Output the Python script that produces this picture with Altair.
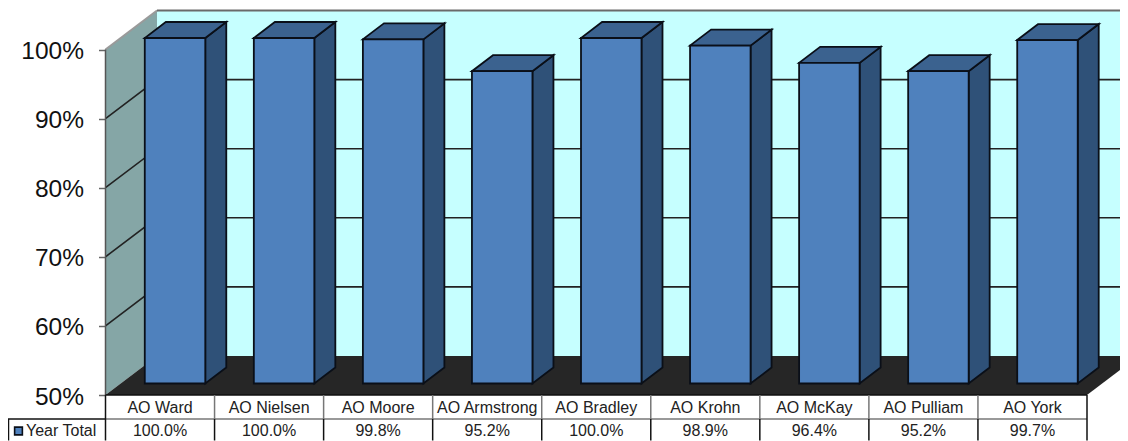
import altair as alt
import pandas as pd

categories = ["AO Ward", "AO Nielsen", "AO Moore", "AO Armstrong", "AO Bradley",
              "AO Krohn", "AO McKay", "AO Pulliam", "AO York"]
values = [100.0, 100.0, 99.8, 95.2, 100.0, 98.9, 96.4, 95.2, 99.7]
value_labels = ["100.0%", "100.0%", "99.8%", "95.2%", "100.0%", "98.9%", "96.4%", "95.2%", "99.7%"]
ticks = [50, 60, 70, 80, 90, 100]
series_name = "Year Total"

# geometry of the pseudo-3D box, in image pixels
AX0, AY0 = 105.5, 395.0
CATW = (1087 - 105.5) / 9
PXPCT = 345.5 / 50
DX, DY = 51.5 / CATW, 39.0 / PXPCT          # full depth in data units
FX, FY = 15.0 / CATW, 11.5 / PXPCT          # bar front offset
BX, BY = 36.0 / CATW, 27.5 / PXPCT          # bar back offset
BARW = 60.5 / CATW


def cx(px):
    return (px - AX0) / CATW


def vy(py):
    return 50 + (AY0 - py) / PXPCT


XS = alt.Scale(domain=[cx(8), cx(1120)], range=[0, 1112], nice=False, zero=False)
YS = alt.Scale(domain=[vy(441), vy(8)], range=[433, 0], nice=False, zero=False)
YAXIS = alt.Axis(
    values=ticks, labelExpr="datum.value + '%'", domain=False, grid=False, offset=-97.5,
    tickSize=7, tickColor="#666666", tickWidth=1.5, labelPadding=15, labelOffset=2,
    labelFont="Liberation Sans", labelFontSize=24.5, labelColor="#111111", title=None)
X = lambda f="x": alt.X(f, type="quantitative", scale=XS, axis=None, title=None)
Y = lambda f="y": alt.Y(f, type="quantitative", scale=YS, axis=YAXIS, title=None)

# back wall
wall = pd.DataFrame([{"x": DX, "x2": cx(1128) + 1, "y": 100 + DY, "y2": 50 + DY}])
wall_l = alt.Chart(wall).mark_rect(color="#C6FFFF", clip=True).encode(
    x=X(), x2="x2", y=Y(), y2="y2")
# left wall
lw = pd.DataFrame([{"x": 0, "y": 100, "y2": 50}, {"x": DX, "y": 100 + DY, "y2": 50 + DY}])
lw_l = alt.Chart(lw).mark_area(color="#85A6A6").encode(x=X(), y=Y(), y2="y2")
# floor
fl = pd.DataFrame([{"y": 50, "x": 0, "x2": 9}, {"y": 50 + DY, "x": DX, "x2": 9 + DX}])
fl_l = alt.Chart(fl).mark_area(color="#262626", orient="horizontal", clip=True).encode(
    y=Y(), x=X(), x2="x2")

# gridlines on the walls
g_rows = []
for t in ticks[1:-1]:
    g_rows += [{"g": t, "x": 0, "y": t}, {"g": t, "x": DX, "y": t + DY}, {"g": t, "x": cx(1128) + 1, "y": t + DY}]
grid_l = alt.Chart(pd.DataFrame(g_rows)).mark_line(color="#222222", strokeWidth=1.6, clip=True).encode(
    x=X(), y=Y(), detail="g:N")

# top and left edges of the walls
edge = pd.DataFrame([{"x": 0, "y": 100}, {"x": DX, "y": 100 + DY}])
edge_l = alt.Chart(edge).mark_line(color="#9A9A9A", strokeWidth=2).encode(x=X(), y=Y())
edge2 = pd.DataFrame([{"x": DX, "y": 100 + DY}, {"x": cx(1128) + 1, "y": 100 + DY}])
edge2_l = alt.Chart(edge2).mark_line(color="#6A6A6A", strokeWidth=2, clip=True).encode(x=X(), y=Y())
edge3 = pd.DataFrame([{"x": 0, "y": 100, "y2": 50}])
edge3_l = alt.Chart(edge3).mark_rule(color="#555555", strokeWidth=1.5).encode(x=X(), y=Y(), y2="y2")

# bars
front, side, top = [], [], []
for i, v in enumerate(values):
    L = i + 0.5 - BARW / 2 + FX
    R = L + BARW
    sx, sy = BX - FX, BY - FY
    front.append({"x": L, "x2": R, "y": v + FY, "y2": 50 + FY, "cat": categories[i]})
    side += [{"i": i, "x": R, "y": v + FY, "y2": 50 + FY},
             {"i": i, "x": R + sx, "y": v + FY + sy, "y2": 50 + FY + sy}]
    top += [{"i": i, "y": v + FY, "x": L, "x2": R},
            {"i": i, "y": v + FY + sy, "x": L + sx, "x2": R + sx}]
STK = dict(stroke="#0A0F18", strokeWidth=1.8, strokeJoin="miter")
side_l = alt.Chart(pd.DataFrame(side)).mark_area(color="#2F5178", **STK).encode(
    x=X(), y=Y(), y2="y2", detail="i:N")
top_l = alt.Chart(pd.DataFrame(top)).mark_area(color="#3B628F", orient="horizontal", **STK).encode(
    y=Y(), x=X(), x2="x2", detail="i:N")
front_l = alt.Chart(pd.DataFrame(front)).mark_rect(color="#4F81BD", **STK).encode(
    x=X(), x2="x2", y=Y(), y2="y2")

# data table
Yrow1, Yrow2, Ytop, Ymid, Ybot = vy(407.5), vy(431), vy(395), vy(419), vy(440.5)
h = [{"x": cx(8), "x2": cx(105.5), "y": Ymid, "c": "d"},
     {"x": cx(105.5), "x2": 9, "y": Ymid, "c": "g"},
     {"x": 0, "x2": 9, "y": Ytop, "c": "d"}]
h_l = alt.Chart(pd.DataFrame(h)).mark_rule(strokeWidth=1.5).encode(
    x=X(), x2="x2", y=Y(),
    color=alt.Color("c:N", legend=None, scale=alt.Scale(domain=["d", "g"], range=["#111111", "#777777"])))
v_rows = []
for i in range(10):
    v_rows.append({"x": i, "y": Ytop, "y2": Ymid, "c": "d" if i in (0, 9) else "g"})
    v_rows.append({"x": i, "y": Ymid, "y2": Ybot, "c": "d"})
v_rows.append({"x": cx(8.5), "y": Ymid, "y2": Ybot, "c": "d"})
v_l = alt.Chart(pd.DataFrame(v_rows)).mark_rule(strokeWidth=1.5).encode(
    x=X(), y=Y(), y2="y2",
    color=alt.Color("c:N", legend=None, scale=alt.Scale(domain=["d", "g"], range=["#111111", "#777777"])))

txt = pd.DataFrame({"x": [i + 0.5 for i in range(9)], "cat": categories, "val": value_labels,
                    "y1": Yrow1, "y2v": Yrow2})
TXT = dict(font="Liberation Sans", fontSize=16, color="#222222", baseline="middle")
t1 = alt.Chart(txt).mark_text(align="center", **TXT).encode(x=X(), y=Y("y1"), text="cat:N")
t2 = alt.Chart(txt).mark_text(align="center", **TXT).encode(x=X(), y=Y("y2v"), text="val:N")
lg = pd.DataFrame({"x": [cx(26)], "y": [Yrow2], "name": [series_name]})
t3 = alt.Chart(lg).mark_text(align="left", **TXT).encode(x=X(), y=Y(), text="name:N")
key = pd.DataFrame({"x": [cx(18.5)], "y": [Yrow2]})
key_l = alt.Chart(key).mark_point(shape="square", filled=True, size=60, color="#4F81BD",
                                  stroke="#0A0F18", strokeWidth=1.6, opacity=1).encode(x=X(), y=Y())

chart = alt.layer(
    wall_l, lw_l, fl_l, grid_l, edge_l, edge2_l, edge3_l,
    side_l, top_l, front_l, h_l, v_l, t1, t2, t3, key_l
).properties(
    width=1112, height=433, padding=0, autosize=alt.AutoSizeParams(type="none"),
    background="white"
).configure_view(stroke=None)

chart.save("out.html", embed_options={"renderer": "svg", "actions": False})
